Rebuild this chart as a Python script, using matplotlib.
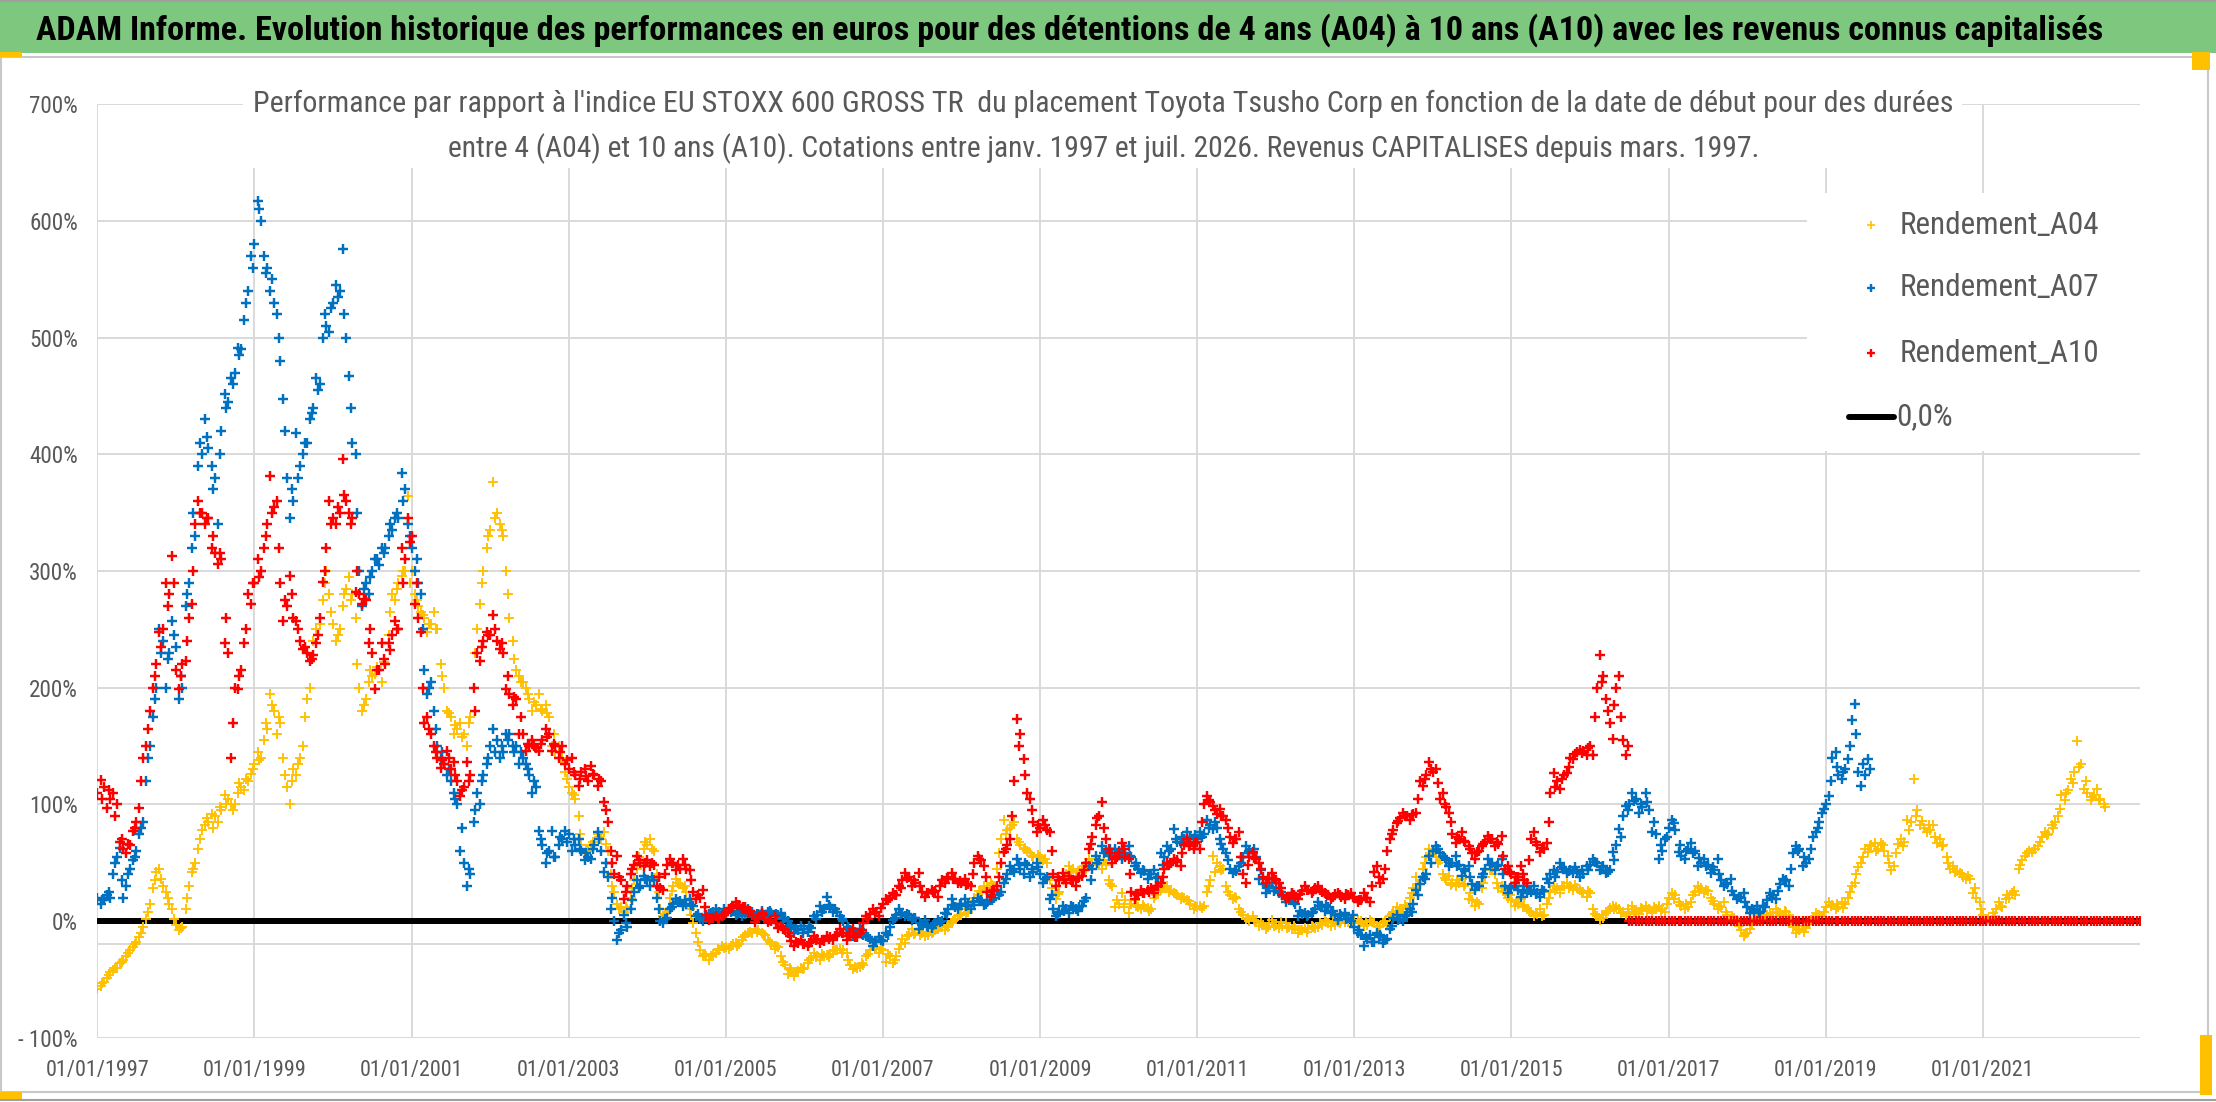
import os
import matplotlib
matplotlib.use("Agg")
import matplotlib.pyplot as plt
import matplotlib.dates as mdates
from matplotlib import font_manager as fm
from matplotlib.patches import Rectangle
from matplotlib.lines import Line2D
from matplotlib.ticker import FuncFormatter, FixedLocator
import pandas as pd

W, H, DPI = 2216, 1102, 100

# ---------------- texts ----------------
banner_title = ("ADAM Informe. Evolution historique des performances en euros pour des détentions "
                "de 4 ans (A04) à 10 ans (A10) avec les revenus connus capitalisés")
subtitle_lines = [
    "Performance par rapport à l'indice EU STOXX 600 GROSS TR  du placement Toyota Tsusho Corp "
    "en fonction de la date de début pour des durées",
    "entre 4 (A04) et 10 ans (A10). Cotations entre janv. 1997 et juil. 2026. "
    "Revenus CAPITALISES depuis mars. 1997.",
]
series_names = ["Rendement_A04", "Rendement_A07", "Rendement_A10"]
zero_label = "0,0%"

# ---------------- data (%) ----------------
# three readings per month: start of month, ~16th, ~24th
series_start = "1997-01-01"
mid_day_offset = 15
late_day_offset = 23

a04_values = [
    -58, -52, -44, -40, -33, -25, -18, -5, 15, 42, 30, 15,            # 1997
    -3, -5, 30, 50, 78, 85, 90, 95, 105, 100, 115, 120,               # 1998
    135, 140, 165, 180, 170, 115, 130, 140, 190, 240, 255, 300,       # 1999
    255, 250, 285, 280, 200, 190, 210, 215, 220, 280, 290, 300,       # 2000
    300, 270, 260, 255, 250, 200, 175, 165, 160, 175, 250, 300,       # 2001
    335, 350, 330, 260, 215, 205, 190, 185, 180, 175, 145, 140,       # 2002
    115, 105, 65, 60, 65, 70, 60, 25, 12, 10, 35, 50,                 # 2003
    65, 60, 10, 8, 30, 32, 25, -2, -25, -30, -28, -25,                # 2004
    -22, -20, -20, -12, -10, -8, -12, -20, -22, -38, -42, -43,        # 2005
    -40, -32, -30, -30, -28, -25, -25, -38, -40, -38, -25, -22,       # 2006
    -25, -30, -30, -15, -12, -10, -10, -12, -8, -5, -5, 2,            # 2007
    5, 8, 20, 25, 28, 30, 70, 78, 85, 65, 60, 55,                     # 2008
    55, 50, 22, 25, 40, 45, 42, 45, 50, 50, 48, 30,                   # 2009
    15, 18, 15, 12, 12, 10, 25, 28, 27, 22, 20, 15,                   # 2010
    12, 13, 35, 50, 45, 22, 20, 5, 0, 0, -3, -2,                      # 2011
    -3, -4, -5, -6, -8, -7, -6, -3, -2, -3, 0, -1,                    # 2012
    0, 0, -3, -2, -4, -3, 8, 10, 12, 28, 35, 55,                      # 2013
    58, 52, 35, 33, 33, 32, 18, 15, 38, 45, 28, 25,                   # 2014
    18, 15, 14, 8, 6, 5, 25, 28, 30, 30, 28, 25,                      # 2015
    24, 4, 3, 11, 12, 8, 6, 9, 10, 10, 10, 10,                        # 2016
    20, 22, 13, 12, 25, 28, 26, 15, 12, 5, 3, -8,                     # 2017
    -10, 2, 4, 5, 7, 6, 8, -5, -8, -6, 3, 5,                          # 2018
    12, 14, 12, 15, 30, 46, 62, 65, 62, 60, 44, 66,                   # 2019
    68, 85, 95, 80, 78, 67, 65, 45, 43, 38, 36, 20,                   # 2020
    5, 0, 10, 12, 20, 22, 52, 60, 62, 72, 75, 85,                     # 2021
    108, 112, 128, 135, 110, 108, 105,                                # 2022
]
a04_mid_values = [
    -56, -49, -42, -36, -30, -22, -14, 2, 28, 45, 25, 10,             # 1997
    -8, 10, 42, 62, 82, 92, 85, 108, 100, 110, 112, 126,              # 1998
    145, 155, 195, 160, 140, 100, 125, 150, 200, 250, 275, 280,       # 1999
    240, 270, 295, 260, 180, 205, 212, 205, 245, 275, 296, 364,       # 2000
    280, 265, 248, 265, 220, 180, 160, 170, 150, 200, 272, 320,       # 2001
    376, 340, 300, 240, 210, 200, 180, 195, 185, 150, 150, 128,       # 2002
    110, 90, 58, 65, 75, 76, 40, 15, 8, 20, 45, 62,                   # 2003
    70, 40, 4, 20, 36, 28, 10, -10, -30, -33, -27, -21,               # 2004
    -24, -19, -16, -10, -7, -10, -16, -24, -30, -45, -47, -40,        # 2005
    -36, -27, -33, -29, -26, -24, -27, -41, -39, -30, -21, -27,       # 2006
    -35, -36, -24, -19, -7, -8, -13, -10, -7, -8, -2, 4,              # 2007
    10, 14, 22, 30, 33, 45, 87, 80, 70, 62, 58, 50,                   # 2008
    52, 35, 19, 35, 47, 39, 45, 53, 53, 45, 35, 12,                   # 2009
    24, 7, 18, 10, 11, 20, 27, 30, 24, 19, 18, 10,                    # 2010
    13, 25, 56, 47, 30, 19, 10, 2, 4, -4, -7, 1,                      # 2011
    -6, -2, -7, -10, -6, -4, -5, 1, -4, -1, -1, 1,                    # 2012
    1, -4, 1, -4, -2, 4, 12, 7, 20, 38, 45, 62,                       # 2013
    55, 40, 39, 30, 36, 19, 13, 28, 53, 40, 30, 20,                   # 2014
    13, 19, 10, 4, 10, 15, 30, 24, 33, 27, 27, 21,                    # 2015
    10, 1, 7, 13, 10, 4, 13, 6, 13, 7, 13, 8,                         # 2016
    24, 16, 10, 16, 30, 24, 20, 10, 16, 2, 1, -13,                    # 2017
    -7, 7, 1, 7, 10, 4, 5, -10, -4, -2, 7, 4,                         # 2018
    16, 10, 16, 20, 33, 50, 59, 67, 67, 56, 47, 70,                   # 2019
    87, 122, 82, 76, 82, 70, 55, 47, 41, 36, 24, 16,                  # 2020
    0, 7, 16, 19, 24, 45, 56, 59, 64, 76, 82, 90,                     # 2021
    104, 122, 154, 113, 104, 113, 100,                                # 2022
]
a04_late_values = [
    -53, -46, -40, -35, -27, -20, -10, 8, 35, 36, 20, 2,              # 1997
    -6, 20, 45, 70, 88, 80, 98, 100, 95, 118, 122, 130,               # 1998
    138, 170, 185, 175, 125, 120, 135, 175, 225, 245, 290, 265,       # 1999
    245, 280, 275, 220, 185, 215, 218, 222, 265, 285, 300, 290,       # 2000
    275, 262, 255, 250, 210, 178, 168, 158, 170, 230, 290, 330,       # 2001
    345, 335, 280, 225, 205, 195, 188, 182, 178, 160, 140, 122,       # 2002
    108, 75, 62, 68, 72, 66, 30, 10, 12, 28, 55, 68,                  # 2003
    62, 25, 6, 26, 33, 30, 5, -18, -28, -30, -24, -23,                # 2004
    -21, -21, -14, -9, -9, -11, -18, -21, -35, -40, -44, -41,         # 2005
    -33, -31, -28, -31, -25, -27, -33, -39, -36, -28, -24, -24,       # 2006
    -28, -33, -20, -13, -11, -12, -9, -9, -5, -3, 0, 5,               # 2007
    7, 16, 26, 27, 31, 58, 75, 82, 68, 63, 56, 57,                    # 2008
    53, 28, 23, 38, 43, 43, 47, 50, 48, 52, 32, 18,                   # 2009
    12, 15, 13, 14, 9, 22, 30, 25, 23, 21, 17, 13,                    # 2010
    11, 30, 42, 44, 25, 21, 8, 3, 1, -2, -5, -4,                      # 2011
    -1, -6, -4, -8, -9, -5, -2, -1, 0, -2, 2, 0,                      # 2012
    -2, -1, -1, -5, 0, 6, 9, 14, 24, 32, 50, 57,                      # 2013
    50, 37, 31, 35, 30, 24, 16, 33, 44, 33, 26, 22,                   # 2014
    16, 12, 9, 7, 4, 20, 27, 30, 28, 31, 24, 26,                      # 2015
    6, 5, 9, 10, 7, 10, 8, 11, 9, 12, 9, 15,                          # 2016
    19, 14, 15, 22, 26, 27, 17, 13, 8, 4, -4, -11,                    # 2017
    -3, 3, 6, 4, 8, 9, 1, -7, -9, 1, 5, 8,                            # 2018
    13, 15, 11, 25, 40, 55, 64, 60, 65, 50, 58, 64,                   # 2019
    78, 90, 86, 82, 72, 64, 50, 42, 40, 39, 28, 10,                   # 2020
    2, 4, 13, 22, 26, 48, 58, 62, 68, 74, 80, 96,                     # 2021
    110, 118, 132, 120, 106, 104, 98,                                 # 2022
]

a07_values = [
    20, 18, 20, 55, 20, 45, 60, 85, 150, 200, 240, 230,               # 1997
    235, 200, 290, 330, 400, 405, 380, 420, 445, 470, 490, 540,       # 1998
    580, 600, 560, 530, 480, 380, 360, 390, 410, 440, 460, 510,       # 1999
    530, 540, 500, 410, 300, 290, 300, 305, 320, 335, 345, 370,       # 2000
    320, 290, 215, 205, 150, 135, 120, 100, 50, 40, 110, 125,         # 2001
    150, 155, 145, 160, 150, 140, 125, 115, 65, 60, 55, 70,           # 2002
    75, 65, 60, 55, 65, 60, 38, 0, -8, -5, 25, 30,                    # 2003
    35, 35, 0, 3, 15, 17, 15, 13, 2, 3, 8, 8,                         # 2004
    7, 9, 7, 6, 8, 6, 5, 7, 5, 3, -5, -8,                             # 2005
    -7, -6, 5, 10, 12, 8, 0, -8, -10, -12, -15, -18,                  # 2006
    -17, -5, 5, 7, 5, 3, -3, -5, -2, 0, 10, 12,                       # 2007
    15, 14, 14, 18, 16, 20, 25, 40, 42, 45, 48, 42,                   # 2008
    40, 38, 10, 8, 10, 12, 12, 20, 45, 52, 60, 58,                    # 2009
    60, 58, 55, 45, 43, 40, 38, 55, 62, 68, 70, 72,                   # 2010
    70, 75, 82, 80, 62, 45, 43, 55, 60, 55, 32, 30,                   # 2011
    28, 22, 18, 15, 6, 5, 10, 12, 12, 5, 4, 3,                        # 2012
    -5, -12, -15, -18, -12, -15, 3, 2, 5, 15, 32, 40,                 # 2013
    60, 58, 52, 50, 48, 43, 32, 30, 45, 50, 48, 30,                   # 2014
    28, 27, 30, 25, 24, 26, 40, 42, 45, 44, 42, 40,                   # 2015
    48, 50, 47, 44, 65, 90, 100, 105, 98, 95, 75, 60,                 # 2016
    80, 78, 56, 62, 60, 50, 48, 44, 35, 32, 22, 20,                   # 2017
    12, 9, 8, 18, 22, 32, 35, 58, 62, 50, 72, 85,                     # 2018
    100, 140, 125, 130, 172, 128, 125,                                # 2019
]
a07_mid_values = [
    15, 22, 40, 63, 30, 52, 75, 120, 175, 250, 200, 257,              # 1997
    190, 270, 320, 390, 430, 390, 340, 452, 465, 491, 515, 570,       # 1998
    617, 570, 540, 520, 447, 345, 418, 400, 430, 465, 500, 505,       # 1999
    545, 576, 467, 400, 270, 280, 310, 320, 330, 345, 384, 340,       # 2000
    300, 280, 195, 180, 140, 125, 110, 60, 30, 85, 100, 135,          # 2001
    165, 140, 160, 150, 135, 135, 110, 77, 50, 77, 65, 77,            # 2002
    60, 70, 52, 53, 76, 42, 10, -16, 5, 10, 35, 39,                   # 2003
    30, 20, -2, 10, 19, 13, 19, 4, 0, 6, 10, 7,                       # 2004
    10, 5, 4, 10, 4, 9, 8, 4, 7, 0, -10, -4,                          # 2005
    -9, 4, 13, 21, 8, 4, -7, -13, -7, -13, -21, -14,                  # 2006
    -10, 1, 10, 4, 1, -7, 1, -6, 1, 7, 19, 10,                        # 2007
    19, 10, 20, 14, 22, 27, 33, 47, 53, 40, 38, 50,                   # 2008
    33, 19, 4, 13, 7, 10, 13, 47, 56, 64, 56, 62,                     # 2009
    53, 64, 47, 41, 36, 44, 58, 64, 79, 67, 76, 67,                   # 2010
    76, 87, 79, 70, 58, 41, 47, 64, 58, 36, 24, 33,                   # 2011
    24, 16, 24, 4, 7, 7, 16, 9, 7, 1, 7, 0,                           # 2012
    -10, -21, -12, -10, -19, -7, 5, 0, 10, 27, 38, 56,                # 2013
    64, 56, 47, 56, 39, 47, 27, 38, 53, 44, 53, 24,                   # 2014
    33, 21, 24, 30, 21, 36, 44, 50, 41, 41, 38, 47,                   # 2015
    53, 44, 41, 59, 79, 99, 110, 93, 110, 76, 53, 70,                 # 2016
    87, 59, 53, 67, 47, 53, 41, 53, 30, 36, 19, 24,                   # 2017
    7, 13, 13, 24, 19, 36, 30, 64, 47, 53, 76, 93,                    # 2018
    107, 145, 122, 139, 186, 116, 139,                                # 2019
]
a07_late_values = [
    18, 25, 50, 35, 40, 55, 80, 140, 190, 230, 225, 245,              # 1997
    210, 280, 350, 410, 415, 370, 400, 440, 460, 485, 530, 560,       # 1998
    610, 555, 550, 500, 420, 370, 380, 410, 435, 455, 520, 525,       # 1999
    535, 520, 440, 350, 285, 295, 310, 315, 340, 350, 360, 330,       # 2000
    310, 250, 200, 165, 145, 130, 105, 80, 45, 95, 120, 140,          # 2001
    145, 150, 155, 145, 145, 130, 120, 70, 58, 55, 72, 68,            # 2002
    70, 62, 58, 62, 70, 50, 20, -10, -2, 18, 28, 36,                  # 2003
    38, 10, 2, 12, 16, 18, 14, 6, 4, 7, 6, 10,                        # 2004
    8, 6, 9, 7, 6, 4, 9, 6, 2, -3, -7, -10,                           # 2005
    -4, 2, 8, 14, 10, 2, -5, -9, -11, -14, -17, -16,                  # 2006
    -12, 3, 6, 6, 3, -2, -4, -3, -1, 6, 14, 15,                       # 2007
    13, 16, 17, 15, 18, 22, 36, 44, 48, 50, 45, 46,                   # 2008
    36, 22, 6, 9, 13, 9, 17, 35, 50, 58, 62, 56,                      # 2009
    57, 56, 50, 44, 40, 37, 48, 60, 70, 72, 68, 74,                   # 2010
    72, 80, 85, 66, 52, 44, 50, 58, 62, 44, 28, 26,                   # 2011
    25, 20, 16, 9, 4, 8, 13, 14, 9, 6, 2, 5,                          # 2012
    -8, -14, -18, -14, -16, -4, 1, 4, 8, 22, 36, 50,                  # 2013
    62, 54, 50, 47, 45, 38, 30, 40, 48, 47, 40, 28,                   # 2014
    30, 25, 27, 23, 27, 33, 38, 46, 43, 46, 44, 44,                   # 2015
    51, 46, 42, 52, 72, 95, 103, 100, 102, 85, 65, 72,                # 2016
    84, 65, 60, 58, 54, 47, 46, 40, 33, 26, 21, 16,                   # 2017
    10, 7, 12, 20, 26, 34, 45, 60, 55, 62, 80, 96,                    # 2018
    120, 132, 128, 150, 160, 135, 130,                                # 2019
]

a10_values = [
    110, 115, 105, 100, 62, 65, 85, 140, 180, 220, 250, 280,          # 1997
    215, 220, 260, 340, 350, 345, 315, 310, 230, 200, 215, 280,       # 1998
    290, 300, 340, 355, 290, 270, 260, 240, 230, 228, 260, 320,       # 1999
    345, 350, 360, 345, 280, 275, 230, 215, 220, 245, 250, 310,       # 2000
    330, 260, 170, 160, 140, 135, 130, 120, 115, 125, 230, 240,       # 2001
    245, 240, 230, 195, 190, 160, 150, 148, 155, 160, 150, 150,       # 2002
    130, 125, 128, 120, 125, 120, 85, 40, 35, 30, 48, 50,             # 2003
    52, 48, 28, 48, 50, 45, 45, 25, 20, 5, 3, 2,                      # 2004
    8, 12, 14, 12, 5, 3, 2, 0, -6, -8, -17, -19,                      # 2005
    -20, -18, -15, -17, -14, -12, -10, -12, -14, -2, 6, 8,            # 2006
    15, 20, 22, 35, 38, 33, 25, 24, 26, 35, 38, 36,                   # 2007
    33, 32, 50, 52, 25, 27, 50, 65, 120, 160, 110, 85,                # 2008
    80, 78, 40, 35, 33, 35, 38, 50, 72, 90, 70, 50,                   # 2009
    58, 55, 25, 22, 24, 28, 30, 45, 50, 52, 65, 66,                   # 2010
    68, 100, 102, 92, 90, 72, 70, 40, 55, 53, 38, 37,                 # 2011
    35, 22, 20, 21, 26, 27, 28, 25, 22, 23, 21, 22,                   # 2012
    20, 18, 20, 42, 33, 60, 78, 88, 90, 92, 120, 125,                 # 2013
    128, 105, 98, 75, 70, 68, 58, 60, 68, 70, 66, 45,                 # 2014
    40, 38, 35, 70, 65, 62, 110, 120, 125, 140, 145, 146,             # 2015
    150, 200, 210, 170, 200, 155, 0, 0, 0, 0, 0, 0,                   # 2016
    0, 0, 0, 0, 0, 0, 0, 0, 0, 0, 0, 0,                               # 2017
    0, 0, 0, 0, 0, 0, 0, 0, 0, 0, 0, 0,                               # 2018
    0, 0, 0, 0, 0, 0, 0, 0, 0, 0, 0, 0,                               # 2019
    0, 0, 0, 0, 0, 0, 0, 0, 0, 0, 0, 0,                               # 2020
    0, 0, 0, 0, 0, 0, 0, 0, 0, 0, 0, 0,                               # 2021
    0, 0, 0, 0, 0, 0, 0, 0, 0, 0, 0, 0,                               # 2022
    0,                                                                # 2023
]
a10_mid_values = [
    121, 97, 110, 68, 58, 77, 97, 150, 200, 248, 290, 313,            # 1997
    199, 223, 272, 360, 340, 320, 306, 238, 140, 199, 238, 272,       # 1998
    310, 320, 381, 360, 257, 296, 257, 233, 223, 238, 291, 360,       # 1999
    340, 396, 350, 282, 272, 238, 199, 238, 238, 257, 320, 345,       # 2000
    272, 248, 175, 150, 131, 146, 136, 107, 136, 200, 223, 248,       # 2001
    262, 233, 199, 185, 160, 146, 155, 146, 165, 146, 140, 135,       # 2002
    140, 116, 130, 133, 116, 102, 60, 56, 19, 40, 56, 47,             # 2003
    47, 30, 27, 53, 44, 53, 44, 19, 27, 1, 4, 4,                      # 2004
    10, 16, 10, 7, -1, 7, -1, 4, -4, -10, -21, -16,                   # 2005
    -21, -13, -19, -13, -16, -7, -16, -7, -10, 4, 10, 4,              # 2006
    19, 24, 30, 41, 30, 41, 21, 27, 21, 33, 41, 33,                   # 2007
    36, 30, 56, 47, 21, 30, 59, 70, 173, 139, 105, 76,                # 2008
    87, 76, 30, 41, 39, 30, 39, 62, 82, 102, 62, 53,                  # 2009
    67, 53, 19, 27, 27, 24, 33, 50, 53, 47, 70, 62,                   # 2010
    62, 107, 99, 96, 87, 67, 76, 33, 59, 50, 33, 41,                  # 2011
    33, 19, 24, 19, 30, 24, 30, 24, 19, 24, 19, 24,                   # 2012
    16, 24, 16, 47, 36, 70, 84, 93, 87, 93, 116, 136,                 # 2013
    130, 110, 93, 67, 76, 64, 53, 64, 73, 64, 73, 47,                 # 2014
    33, 47, 33, 76, 59, 67, 127, 113, 127, 139, 147, 142,             # 2015
    142, 228, 190, 156, 210, 142, 0, 0, 0, 0, 0, 0,                   # 2016
    0, 0, 0, 0, 0, 0, 0, 0, 0, 0, 0, 0,                               # 2017
    0, 0, 0, 0, 0, 0, 0, 0, 0, 0, 0, 0,                               # 2018
    0, 0, 0, 0, 0, 0, 0, 0, 0, 0, 0, 0,                               # 2019
    0, 0, 0, 0, 0, 0, 0, 0, 0, 0, 0, 0,                               # 2020
    0, 0, 0, 0, 0, 0, 0, 0, 0, 0, 0, 0,                               # 2021
    0, 0, 0, 0, 0, 0, 0, 0, 0, 0, 0, 0,                               # 2022
]
a10_late_values = [
    105, 112, 90, 70, 66, 80, 120, 165, 210, 235, 270, 290,           # 1997
    210, 240, 300, 350, 345, 330, 315, 260, 170, 210, 250, 290,       # 1998
    295, 330, 350, 320, 275, 280, 250, 235, 225, 245, 300, 340,       # 1999
    355, 365, 340, 300, 276, 250, 215, 225, 232, 250, 290, 325,       # 2000
    290, 200, 165, 145, 138, 140, 125, 112, 120, 180, 235, 245,       # 2001
    250, 238, 210, 192, 175, 152, 150, 152, 158, 152, 145, 138,       # 2002
    128, 122, 124, 126, 122, 95, 50, 38, 25, 45, 52, 50,              # 2003
    50, 38, 40, 50, 48, 48, 35, 22, 12, 3, 2, 5,                      # 2004
    11, 14, 12, 9, 2, 5, 1, -2, -7, -13, -18, -20,                    # 2005
    -19, -16, -16, -15, -13, -10, -13, -14, -8, 2, 7, 11,             # 2006
    18, 22, 28, 37, 35, 30, 24, 25, 30, 37, 36, 34,                   # 2007
    31, 40, 53, 38, 26, 38, 62, 90, 150, 125, 95, 82,                 # 2008
    82, 60, 38, 36, 35, 37, 44, 66, 88, 80, 58, 55,                   # 2009
    62, 40, 23, 24, 25, 30, 38, 48, 51, 58, 64, 67,                   # 2010
    85, 104, 95, 90, 80, 70, 55, 48, 54, 45, 36, 36,                  # 2011
    28, 21, 22, 23, 27, 26, 27, 23, 21, 22, 23, 21,                   # 2012
    18, 20, 30, 38, 45, 75, 86, 90, 91, 105, 122, 130,                # 2013
    118, 100, 85, 72, 69, 62, 59, 66, 70, 68, 56, 42,                 # 2014
    38, 40, 52, 68, 63, 85, 115, 122, 132, 143, 144, 148,             # 2015
    175, 205, 180, 185, 175, 150,                                     # 2016
]

zero_line_dates = ["1997-01-01", "2023-01-01"]
zero_line_values = [0, 0]

x_range = ["1997-01-01", "2023-01-01"]
x_tick_dates = ["1997-01-01", "1999-01-01", "2001-01-01", "2003-01-01", "2005-01-01",
                "2007-01-01", "2009-01-01", "2011-01-01", "2013-01-01", "2015-01-01",
                "2017-01-01", "2019-01-01", "2021-01-01"]
y_ticks = [-100, 0, 100, 200, 300, 400, 500, 600, 700]
axis_cross_value = -20

colors = ["#FFC000", "#0070C0", "#FF0000"]
GRID = "#D9D9D9"
TXT = "#595959"


# ---------------- font: prefer a narrow sans (Calibri-like look) ----------------
def pick_font(bold):
    prefs = ["liberationsansnarrow", "robotocondensed", "opensanscondensed",
             "notosanscondensed", "dejavusanscondensed", "latocondensed"]
    best = None
    for f in fm.fontManager.ttflist:
        fn = os.path.basename(f.fname).lower().replace("-", "").replace("_", "")
        if "italic" in fn or "oblique" in fn:
            continue
        isbold = ("bold" in fn) and ("semibold" not in fn) and ("extrabold" not in fn)
        if bold != isbold:
            continue
        if not bold and any(k in fn for k in ("light", "thin", "medium", "black", "semibold")):
            continue
        for rank, p in enumerate(prefs):
            if fn.startswith(p):
                if best is None or rank < best[0]:
                    best = (rank, f)
    return best[1] if best else None


reg = pick_font(False)
bld = pick_font(True)
if reg is not None:
    plt.rcParams["font.family"] = [reg.name, "Liberation Sans", "DejaVu Sans"]
    plt.rcParams["font.stretch"] = reg.stretch
else:
    plt.rcParams["font.family"] = ["Liberation Sans", "DejaVu Sans"]
if bld is not None:
    bold_kw = dict(fontproperties=fm.FontProperties(fname=bld.fname))
else:
    bold_kw = dict(fontweight="bold")


def px(x):
    return x / W


def py(y):
    return 1 - y / H


fig = plt.figure(figsize=(W / DPI, H / DPI), dpi=DPI)
fig.patch.set_facecolor("white")

L, R, T, B = 97.3, 2140.0, 104.3, 1037.7
ax = fig.add_axes([px(L), py(B), (R - L) / W, (B - T) / H])
ax.set_facecolor("white")


def month_dates(n, offset_days):
    return pd.date_range(series_start, periods=n, freq="MS") + pd.Timedelta(days=offset_days)


ax.plot(pd.to_datetime(zero_line_dates), zero_line_values, color="black", lw=4.3,
        solid_capstyle="round", zorder=2)

groups = [
    (a04_values, a04_mid_values, a04_late_values, dict(ms=6.6, mew=1.35), 3),
    (a07_values, a07_mid_values, a07_late_values, dict(ms=6.6, mew=1.75), 4),
    (a10_values, a10_mid_values, a10_late_values, dict(ms=6.6, mew=1.75), 5),
]
for i, (v0, v1, v2, mk, z) in enumerate(groups):
    for vals, off in ((v0, 0), (v1, mid_day_offset), (v2, late_day_offset)):
        ax.plot(month_dates(len(vals), off), vals, ls="none", marker="+",
                color=colors[i], zorder=z, **mk)

ax.axhline(axis_cross_value, color=GRID, lw=1.4, zorder=1)

ax.set_xlim(pd.to_datetime(x_range[0]), pd.to_datetime(x_range[1]))
ax.set_ylim(y_ticks[0], y_ticks[-1])
ax.xaxis.set_major_locator(FixedLocator(mdates.date2num(pd.to_datetime(x_tick_dates))))
ax.xaxis.set_major_formatter(mdates.DateFormatter("%d/%m/%Y"))
ax.set_yticks(y_ticks)
ax.yaxis.set_major_formatter(FuncFormatter(
    lambda v, p: f"{int(v)}%" if v >= 0 else f"- {int(-v)}%"))
ax.grid(True, color=GRID, lw=1.4)
ax.set_axisbelow(True)
for s in ax.spines.values():
    s.set_visible(False)
ax.tick_params(axis="both", length=0, colors=TXT)
ax.tick_params(axis="x", labelsize=18, pad=16)
ax.tick_params(axis="y", labelsize=17, pad=14)

# ---------------- decorations ----------------
fig.add_artist(Rectangle((0, py(53)), 1, 53 / H, transform=fig.transFigure,
                         facecolor="#7DC87E", edgecolor="none", zorder=1))
fig.add_artist(Line2D([0, 1], [py(1), py(1)], transform=fig.transFigure,
                      color="#A0A0A0", lw=1.5, zorder=2))
fig.add_artist(Rectangle((px(1), py(1092)), (2208 - 1) / W, (1092 - 57) / H,
                         transform=fig.transFigure, fill=False,
                         edgecolor="#C8C8C8", lw=1.5, zorder=1))
fig.add_artist(Line2D([0, 1], [py(1100), py(1100)], transform=fig.transFigure,
                      color="#A0A0A0", lw=1.5, zorder=2))
for (x0, y0, w, h) in [(0, 52, 22, 5), (2192, 52, 18, 18), (2200, 1035, 12, 60), (0, 1092, 22, 7)]:
    fig.add_artist(Rectangle((px(x0), py(y0 + h)), w / W, h / H, transform=fig.transFigure,
                             facecolor="#FFC000", edgecolor="none", zorder=3))
# backgrounds behind the chart title and the legend (cover gridlines)
fig.add_artist(Rectangle((px(243), py(168)), (1962 - 243) / W, (168 - 62) / H,
                         transform=fig.transFigure, facecolor="white",
                         edgecolor="none", zorder=1))
fig.add_artist(Rectangle((px(1807), py(451)), (2140 - 1807) / W, (451 - 193) / H,
                         transform=fig.transFigure, facecolor="white",
                         edgecolor="none", zorder=1))

fig.canvas.draw()
renderer = fig.canvas.get_renderer()


def width_of(t):
    return t.get_window_extent(renderer=renderer).width


def fit(t, target):
    t.set_fontsize(t.get_fontsize() * target / width_of(t))


xl = ax.get_xticklabels()[0]
ax.tick_params(axis="x", labelsize=18 * 104 / width_of(xl))
yl = ax.get_yticklabels()[-1]
ax.tick_params(axis="y", labelsize=17 * 49 / width_of(yl))

t0 = fig.text(px(36), py(40), banner_title, ha="left", va="baseline", fontsize=24,
              color="black", zorder=5, **bold_kw)
fit(t0, 2071)
t1 = fig.text(px(1103.5), py(112), subtitle_lines[0], ha="center", va="baseline",
              fontsize=20, color=TXT, zorder=5)
fit(t1, 1699)
t2 = fig.text(px(1103.5), py(157), subtitle_lines[1], ha="center", va="baseline",
              fontsize=20, color=TXT, zorder=5)
fit(t2, 1311)

leg_rows = [225, 288, 353, 417]
probe = fig.text(0, 0, series_names[0], fontsize=23.4)
leg_size = 23.4 * 200 / width_of(probe)
probe.remove()
for i, name in enumerate(series_names):
    fig.add_artist(Line2D([px(1871)], [py(leg_rows[i])], transform=fig.transFigure,
                          ls="none", marker="+", ms=6, mew=1.2 if i == 0 else 1.7,
                          color=colors[i], zorder=5))
    fig.text(px(1900), py(leg_rows[i]), name, ha="left", va="center",
             fontsize=leg_size, color=TXT, zorder=5)
fig.add_artist(Line2D([px(1849), px(1894)], [py(leg_rows[3])] * 2, transform=fig.transFigure,
                      color="black", lw=4.3, solid_capstyle="round", zorder=5))
fig.text(px(1896), py(leg_rows[3]), zero_label, ha="left", va="center",
         fontsize=leg_size, color=TXT, zorder=5)

fig.savefig("out.png", dpi=DPI, facecolor="white")
